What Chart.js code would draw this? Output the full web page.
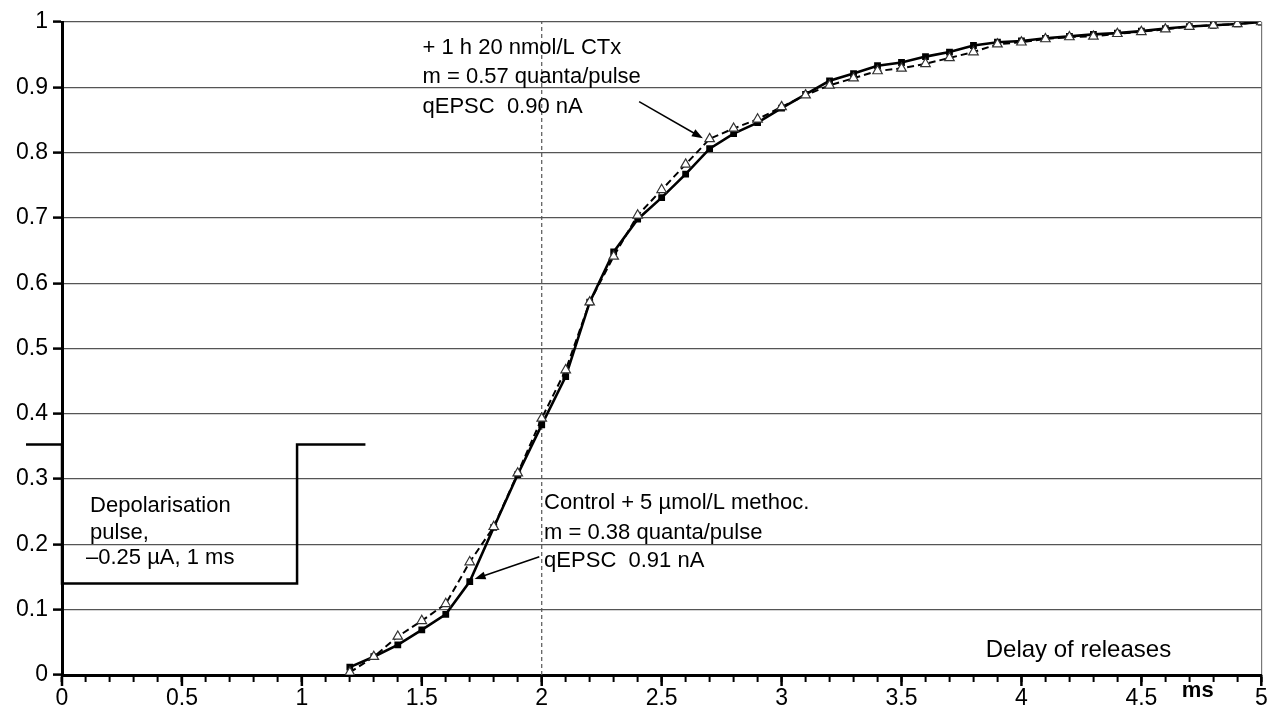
<!DOCTYPE html>
<html>
<head>
<meta charset="utf-8">
<script src="https://cdn.jsdelivr.net/npm/chart.js@4.4.1/dist/chart.umd.min.js"></script>
<style>
  html, body { margin: 0; padding: 0; background: #fff; }
  #wrap { width: 1268px; height: 707px; }
</style>
</head>
<body>
<div id="wrap"><canvas id="delayChart" width="1268" height="707"></canvas></div>
<script>
// --- data: cumulative fraction of releases vs delay (ms) ---
const delayMs = [1.2, 1.3, 1.4, 1.5, 1.6, 1.7, 1.8, 1.9, 2.0, 2.1, 2.2, 2.3, 2.4, 2.5, 2.6, 2.7, 2.8, 2.9, 3.0,
                 3.1, 3.2, 3.3, 3.4, 3.5, 3.6, 3.7, 3.8, 3.9, 4.0, 4.1, 4.2, 4.3, 4.4, 4.5, 4.6, 4.7, 4.8, 4.9, 5.0];

const controlCum = [0.012, 0.028, 0.046, 0.069, 0.093, 0.143, 0.226, 0.307, 0.383, 0.457, 0.571, 0.648, 0.698,
                    0.731, 0.767, 0.806, 0.829, 0.846, 0.868, 0.889, 0.910, 0.921, 0.933, 0.938, 0.947, 0.954,
                    0.964, 0.969, 0.971, 0.975, 0.978, 0.981, 0.983, 0.986, 0.990, 0.993, 0.995, 0.997, 1.000];

const ctxCum = [0.004, 0.028, 0.059, 0.083, 0.109, 0.173, 0.227, 0.309, 0.393, 0.467, 0.571, 0.641, 0.704,
                0.743, 0.782, 0.821, 0.837, 0.851, 0.870, 0.888, 0.903, 0.914, 0.925, 0.929, 0.936, 0.945,
                0.954, 0.966, 0.969, 0.974, 0.977, 0.978, 0.982, 0.985, 0.989, 0.993, 0.995, 0.997, 1.000];

// depolarisation pulse trace (drawn in the same axes)
const pulseX = [-0.15, 0, 0, 0.98, 0.98, 1.265];
const pulseY = [0.353, 0.353, 0.14, 0.14, 0.353, 0.353];

const stimDelay = 2;   // dashed reference line

const xLabels = ['0', '0.5', '1', '1.5', '2', '2.5', '3', '3.5', '4', '4.5', '5'];
const yLabels = ['0', '0.1', '0.2', '0.3', '0.4', '0.5', '0.6', '0.7', '0.8', '0.9', '1'];

const ctxNote = ['+ 1 h 20 nmol/L CTx', 'm = 0.57 quanta/pulse', 'qEPSC  0.90 nA'];
const controlNote = ['Control + 5 \u00b5mol/L methoc.', 'm = 0.38 quanta/pulse', 'qEPSC  0.91 nA'];
const pulseNote = ['Depolarisation', 'pulse,', '\u20130.25 \u00b5A, 1 ms'];
const xTitle = 'Delay of releases';
const xUnit = 'ms';

// --- where the notes sit, in axis units ---
const notes = [
  { lines: ctxNote, size: 22, x: [1.503, 1.503, 1.503], y: [0.960, 0.916, 0.870] },
  { lines: controlNote, size: 22, x: [2.01, 2.01, 2.01], y: [0.264, 0.218, 0.174] },
  { lines: pulseNote, size: 22, x: [0.117, 0.117, 0.100], y: [0.259, 0.2175, 0.179] },
  { lines: [xTitle], size: 24, x: [3.851], y: [0.037] }
];
const arrows = [
  { from: [2.406, 0.878], to: [2.672, 0.822] },
  { from: [1.99, 0.181], to: [1.72, 0.147] }
];

const FONT = '"Liberation Sans", Arial, sans-serif';
Chart.defaults.font.family = FONT;
Chart.defaults.font.size = 23;
Chart.defaults.color = '#000';

const toPts = (xs, ys) => xs.map((x, i) => ({ x: x, y: ys[i] }));

// notes, arrows, long major ticks and the unit label
const overlay = {
  id: 'overlay',
  afterDraw(chart) {
    const c = chart.ctx, xs = chart.scales.x, ys = chart.scales.y;
    c.save();

    // major ticks on the x axis are longer than the minor ones
    c.strokeStyle = '#000';
    c.lineWidth = 2.5;
    xLabels.forEach(l => {
      const px = xs.getPixelForValue(parseFloat(l));
      c.beginPath();
      c.moveTo(px, ys.bottom);
      c.lineTo(px, ys.bottom + 11);
      c.stroke();
    });

    c.fillStyle = '#000';
    c.textBaseline = 'middle';
    c.textAlign = 'left';
    notes.forEach(n => {
      c.font = n.size + 'px ' + FONT;
      n.lines.forEach((t, i) => {
        c.fillText(t, xs.getPixelForValue(n.x[i]), ys.getPixelForValue(n.y[i]));
      });
    });

    c.font = 'bold 22px ' + FONT;
    c.textAlign = 'center';
    c.fillText(xUnit, xs.getPixelForValue(4.735), ys.bottom + 16);

    c.lineWidth = 1.5;
    arrows.forEach(a => {
      const x0 = xs.getPixelForValue(a.from[0]), y0 = ys.getPixelForValue(a.from[1]);
      const x1 = xs.getPixelForValue(a.to[0]), y1 = ys.getPixelForValue(a.to[1]);
      const ang = Math.atan2(y1 - y0, x1 - x0);
      c.beginPath();
      c.moveTo(x0, y0);
      c.lineTo(x1 - 6 * Math.cos(ang), y1 - 6 * Math.sin(ang));
      c.stroke();
      c.beginPath();
      c.moveTo(x1, y1);
      c.lineTo(x1 - 11 * Math.cos(ang) + 4 * Math.sin(ang), y1 - 11 * Math.sin(ang) - 4 * Math.cos(ang));
      c.lineTo(x1 - 11 * Math.cos(ang) - 4 * Math.sin(ang), y1 - 11 * Math.sin(ang) + 4 * Math.cos(ang));
      c.closePath();
      c.fill();
    });
    c.restore();
  }
};

new Chart(document.getElementById('delayChart'), {
  type: 'line',
  data: {
    datasets: [
      {
        label: 'CTx',
        data: toPts(delayMs, ctxCum),
        borderColor: '#000',
        borderWidth: 2,
        borderDash: [7, 4],
        pointStyle: 'triangle',
        pointRadius: 5.5,
        pointBackgroundColor: '#fff',
        pointBorderColor: '#333',
        pointBorderWidth: 1.2,
        tension: 0,
        order: 1
      },
      {
        label: 'Control',
        data: toPts(delayMs, controlCum),
        borderColor: '#000',
        borderWidth: 2.6,
        pointStyle: 'rect',
        pointRadius: 4.8,
        pointBackgroundColor: '#000',
        pointBorderColor: '#000',
        pointBorderWidth: 0,
        tension: 0,
        order: 2
      },
      {
        label: 'pulse',
        data: toPts(pulseX, pulseY),
        borderColor: '#000',
        borderWidth: 2.5,
        pointRadius: 0,
        tension: 0,
        clip: false,
        order: 3
      },
      {
        label: 'ref',
        data: [{ x: stimDelay, y: 0 }, { x: stimDelay, y: 1 }],
        borderColor: '#555',
        borderWidth: 1.2,
        borderDash: [4, 3],
        pointRadius: 0,
        order: 4
      }
    ]
  },
  options: {
    responsive: false,
    animation: false,
    layout: { padding: 0 },
    plugins: { legend: { display: false }, tooltip: { enabled: false } },
    scales: {
      x: {
        type: 'linear',
        min: 0,
        max: 5,
        afterFit: s => { s.height = 32; s.paddingRight = 5; },
        ticks: {
          stepSize: 0.1,
          autoSkip: false,
          maxRotation: 0,
          padding: 3,
          callback: (v, i) => (i % 5 === 0 ? xLabels[i / 5] : '')
        },
        grid: {
          color: c => (c.tick && Math.abs(c.tick.value - 5) < 1e-6 ? '#777' : 'rgba(0,0,0,0)'),
          lineWidth: 1.2,
          tickColor: '#000',
          tickWidth: 2,
          tickLength: 7
        },
        border: { color: '#000', width: 3 }
      },
      y: {
        min: 0,
        max: 1,
        afterFit: s => { s.width = 62; s.paddingTop = 22; },
        ticks: {
          stepSize: 0.1,
          padding: 5,
          callback: (v, i) => yLabels[i]
        },
        grid: {
          color: '#555',
          lineWidth: 1.2,
          tickColor: '#000',
          tickWidth: 2.5,
          tickLength: 9
        },
        border: { color: '#000', width: 3 }
      }
    }
  },
  plugins: [overlay]
});
</script>
</body>
</html>
